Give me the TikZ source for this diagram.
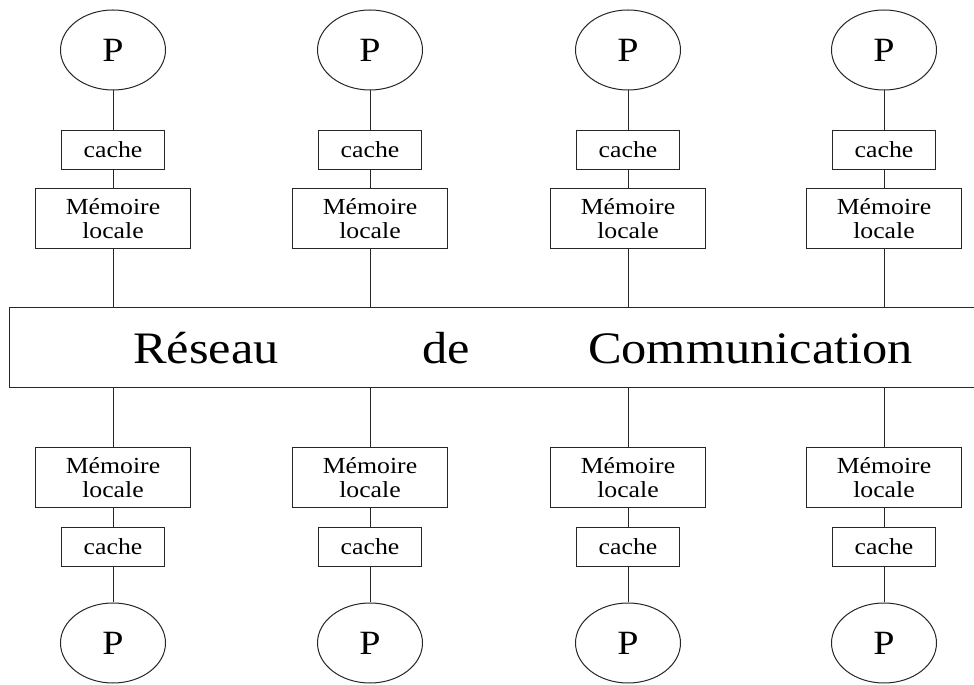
\documentclass[tikz,border=0pt]{standalone}
\usepackage{fontspec}
\setmainfont{Liberation Serif}[FakeStretch=1.12]
\usetikzlibrary{shapes.geometric}

\tikzset{
  proc/.style={ellipse, draw, minimum width=105pt, minimum height=80pt,
               inner sep=0pt, font=\fontsize{34}{36}\selectfont},
  cachebox/.style={rectangle, draw, minimum width=103pt, minimum height=39pt,
               inner sep=0pt, font=\fontsize{23}{26}\selectfont},
  membox/.style={rectangle, draw, minimum width=155pt, minimum height=60pt,
               inner sep=0pt, align=center, font=\fontsize{23}{24}\selectfont},
  netbox/.style={rectangle, draw, minimum width=990pt, minimum height=80pt,
               inner sep=0pt, font=\fontsize{45}{48}\selectfont},
  wire/.style={draw}
}

\begin{document}
\begin{tikzpicture}[x=1pt, y=1pt]
\useasboundingbox (0,0) rectangle (974,685);
\begin{scope}[line width=1pt, draw=black!85]

  % reseau
  \node[netbox] (net) at (504,337)
       {\hspace{38pt}Réseau\hspace{144pt}de\hspace{118pt}Communication};

  % column 1
  \begin{scope}[xshift=113pt]
  \node[proc] (ptop1) at (0,635) {P};
  \node[cachebox] (ctop1) at (0,535) {cache};
  \node[membox] (mtop1) at (0,466) {Mémoire\\locale};
  \node[membox] (mbot1) at (0,207) {Mémoire\\locale};
  \node[cachebox] (cbot1) at (0,138) {cache};
  \node[proc] (pbot1) at (0,42) {P};
  \end{scope}

  % column 2
  \begin{scope}[xshift=370pt]
  \node[proc] (ptop2) at (0,635) {P};
  \node[cachebox] (ctop2) at (0,535) {cache};
  \node[membox] (mtop2) at (0,466) {Mémoire\\locale};
  \node[membox] (mbot2) at (0,207) {Mémoire\\locale};
  \node[cachebox] (cbot2) at (0,138) {cache};
  \node[proc] (pbot2) at (0,42) {P};
  \end{scope}

  % column 3
  \begin{scope}[xshift=628pt]
  \node[proc] (ptop3) at (0,635) {P};
  \node[cachebox] (ctop3) at (0,535) {cache};
  \node[membox] (mtop3) at (0,466) {Mémoire\\locale};
  \node[membox] (mbot3) at (0,207) {Mémoire\\locale};
  \node[cachebox] (cbot3) at (0,138) {cache};
  \node[proc] (pbot3) at (0,42) {P};
  \end{scope}

  % column 4
  \begin{scope}[xshift=884pt]
  \node[proc] (ptop4) at (0,635) {P};
  \node[cachebox] (ctop4) at (0,535) {cache};
  \node[membox] (mtop4) at (0,466) {Mémoire\\locale};
  \node[membox] (mbot4) at (0,207) {Mémoire\\locale};
  \node[cachebox] (cbot4) at (0,138) {cache};
  \node[proc] (pbot4) at (0,42) {P};
  \end{scope}

  % links
  \path[wire] (ptop1) edge (ctop1) (ctop1) edge (mtop1) (mtop1) edge (mtop1 |- net.north)
              (net.south -| mbot1) edge (mbot1) (mbot1) edge (cbot1) (cbot1) edge (pbot1);
  \path[wire] (ptop2) edge (ctop2) (ctop2) edge (mtop2) (mtop2) edge (mtop2 |- net.north)
              (net.south -| mbot2) edge (mbot2) (mbot2) edge (cbot2) (cbot2) edge (pbot2);
  \path[wire] (ptop3) edge (ctop3) (ctop3) edge (mtop3) (mtop3) edge (mtop3 |- net.north)
              (net.south -| mbot3) edge (mbot3) (mbot3) edge (cbot3) (cbot3) edge (pbot3);
  \path[wire] (ptop4) edge (ctop4) (ctop4) edge (mtop4) (mtop4) edge (mtop4 |- net.north)
              (net.south -| mbot4) edge (mbot4) (mbot4) edge (cbot4) (cbot4) edge (pbot4);

\end{scope}
\end{tikzpicture}
\end{document}
